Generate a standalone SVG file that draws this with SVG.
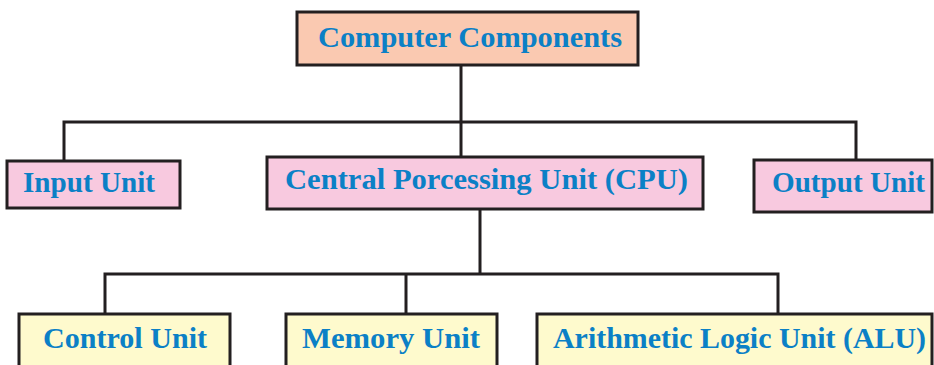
<svg xmlns="http://www.w3.org/2000/svg" width="934" height="365" viewBox="0 0 934 365">
<style>
.box{stroke:#231f20;stroke-width:3}
.peach{fill:#fac9b1}
.pink{fill:#f8c9df}
.yellow{fill:#fefacd}
.t{font-family:"Liberation Serif","Times New Roman",serif;font-weight:bold;font-size:30px;fill:#0b80c6}
.c{fill:none;stroke:#231f20;stroke-width:3}
</style>
<rect width="934" height="365" fill="#ffffff"/>
<g id="connectors">
<path class="c" d="M461 65V157"/>
<path class="c" d="M64 160V122H856V160"/>
<path class="c" d="M480 209V274"/>
<path class="c" d="M105 314V274H778V314"/>
<path class="c" d="M406 274V314"/>
</g>
<g id="computer-components">
<rect class="box peach" x="297" y="12" width="341" height="53"/>
<text class="t" x="318" y="47" textLength="304" lengthAdjust="spacingAndGlyphs">Computer Components</text>
</g>
<g id="input-unit">
<rect class="box pink" x="7" y="161" width="173" height="47"/>
<text class="t" x="23" y="192" textLength="132" lengthAdjust="spacingAndGlyphs">Input Unit</text>
</g>
<g id="cpu">
<rect class="box pink" x="267" y="157" width="436" height="52"/>
<text class="t" x="285" y="189" textLength="403" lengthAdjust="spacingAndGlyphs">Central Porcessing Unit (CPU)</text>
</g>
<g id="output-unit">
<rect class="box pink" x="754" y="160" width="178" height="52"/>
<text class="t" x="772" y="192" textLength="153" lengthAdjust="spacingAndGlyphs">Output Unit</text>
</g>
<g id="control-unit">
<rect class="box yellow" x="19" y="314" width="211" height="60"/>
<text class="t" x="43" y="348" textLength="164" lengthAdjust="spacingAndGlyphs">Control Unit</text>
</g>
<g id="memory-unit">
<rect class="box yellow" x="286" y="314" width="211" height="60"/>
<text class="t" x="302" y="348" textLength="178" lengthAdjust="spacingAndGlyphs">Memory Unit</text>
</g>
<g id="alu">
<rect class="box yellow" x="537" y="314" width="395" height="60"/>
<text class="t" x="553" y="348" textLength="373" lengthAdjust="spacingAndGlyphs">Arithmetic Logic Unit (ALU)</text>
</g>
</svg>
